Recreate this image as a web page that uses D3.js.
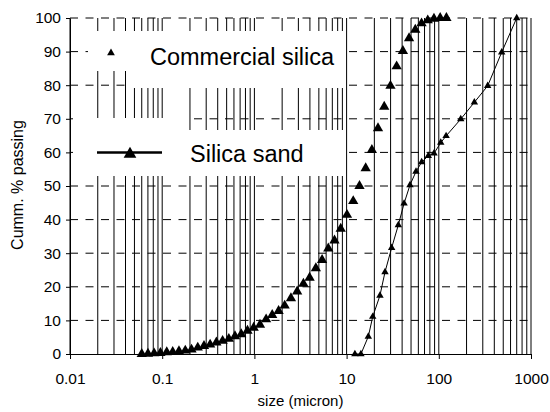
<!DOCTYPE html>
<html>
<head>
<meta charset="utf-8">
<script src="https://cdn.jsdelivr.net/npm/d3@7"></script>
<style>
  body { margin: 0; background: #fff; }
  svg text { font-family: "Liberation Sans", Arial, sans-serif; fill: #000; }
</style>
</head>
<body>
<svg id="chart" width="550" height="412"></svg>
<script>
// commercial silica (markers only)
const sizeCommercial = [0.060, 0.0701, 0.0818, 0.0956, 0.112, 0.130, 0.152, 0.178, 0.208, 0.243,
  0.284, 0.331, 0.387, 0.452, 0.528, 0.616, 0.720, 0.841, 0.982, 1.15,
  1.34, 1.56, 1.83, 2.13, 2.49, 2.91, 3.40, 3.97, 4.64, 5.42,
  6.33, 7.39, 8.63, 10.1, 11.8, 13.8, 16.1, 18.8, 21.9, 25.6,
  29.9, 34.9, 40.8, 47.6, 55.6, 65.0, 75.9, 88.6, 103.5, 120.9];
const passCommercial = [0, 0.1, 0.2, 0.3, 0.5, 0.6, 0.8, 1.0, 1.3, 1.9,
  2.4, 2.8, 3.4, 3.9, 4.5, 5.3, 5.9, 6.9, 7.8, 8.7,
  10.3, 11.6, 12.8, 14.4, 16.6, 18.6, 20.9, 22.7, 25.5, 28.0,
  31.4, 33.8, 37.3, 41.4, 45.5, 50.0, 55.3, 60.7, 67.2, 73.6,
  79.8, 85.6, 90.2, 94.0, 96.5, 98.4, 99.3, 99.8, 100, 100];

// silica sand (line + markers)
const sizeSand = [12.3, 14.3, 17.2, 19.2, 23.0, 26.1, 30.8, 36.4, 42.0, 48.7,
  56.6, 65.2, 76.9, 88.7, 105, 120, 173, 243, 339, 481, 700];
const passSand = [0, 0, 5.2, 11.1, 17.4, 24.4, 31.6, 38.4, 44.8, 50.3,
  54.3, 57.1, 59.0, 59.7, 62.9, 64.9, 69.9, 74.9, 79.8, 89.8, 100];

const xTicks = [0.01, 0.1, 1, 10, 100, 1000];
const xTickLabels = ["0.01", "0.1", "1", "10", "100", "1000"];
const yTicks = [0, 10, 20, 30, 40, 50, 60, 70, 80, 90, 100];
const seriesNames = ["Commercial silica", "Silica sand"];

const svg = d3.select("#chart");
const margin = { top: 18, right: 19, bottom: 58, left: 70 };
const width = +svg.attr("width") - margin.left - margin.right;
const height = +svg.attr("height") - margin.top - margin.bottom;

const x = d3.scaleLog().domain([0.01, 1000]).range([0, width]);
const y = d3.scaleLinear().domain([0, 100]).range([height, 0]);

const g = svg.append("g").attr("transform", `translate(${margin.left},${margin.top})`);

// vertical grid (every 1..9 of each decade)
g.append("g")
  .selectAll("line")
  .data(x.ticks())
  .join("line")
  .attr("x1", d => x(d)).attr("x2", d => x(d))
  .attr("y1", 0).attr("y2", height)
  .attr("stroke", "#000")
  .attr("stroke-width", 1);

// horizontal dashed grid
g.append("g")
  .selectAll("line")
  .data(yTicks.filter(d => d > 0))
  .join("line")
  .attr("x1", 0).attr("x2", width)
  .attr("y1", d => y(d)).attr("y2", d => y(d))
  .attr("stroke", "#000")
  .attr("stroke-width", 1)
  .attr("stroke-dasharray", "8,7.5");

// legend backgrounds (in page coords)
const legendBoxes = [
  [88, 31, 257, 40],
  [128, 71, 217, 17],
  [73, 118, 115, 58],
  [188, 130, 157, 46]
];
svg.append("g")
  .selectAll("rect")
  .data(legendBoxes)
  .join("rect")
  .attr("x", d => d[0]).attr("y", d => d[1])
  .attr("width", d => d[2]).attr("height", d => d[3])
  .attr("fill", "#fff");

// axes
const yAxis = g.append("g")
  .call(d3.axisLeft(y).tickValues(yTicks).tickSize(4).tickSizeOuter(0).tickPadding(5));
yAxis.select(".domain").attr("stroke", "#000");
yAxis.selectAll("text").style("font-size", "15.5px");

const xAxis = g.append("g")
  .attr("transform", `translate(0,${height})`)
  .call(d3.axisBottom(x).tickValues(xTicks).tickSize(5).tickSizeOuter(0).tickPadding(14)
    .tickFormat((d, i) => xTickLabels[i]));
xAxis.select(".domain").attr("stroke", "#000");
xAxis.selectAll("text").style("font-size", "15.5px");

// axis titles
svg.append("text")
  .attr("x", margin.left + x(Math.sqrt(10)))
  .attr("y", 406)
  .attr("text-anchor", "middle")
  .style("font-size", "15px")
  .text("size (micron)");

svg.append("text")
  .attr("transform", "translate(23,185) rotate(-90)")
  .attr("text-anchor", "middle")
  .style("font-size", "16px")
  .text("Cumm. % passing");

const commercial = sizeCommercial.map((s, i) => ({ s, p: passCommercial[i] }));
const sand = sizeSand.map((s, i) => ({ s, p: passSand[i] }));

// silica sand line
g.append("path")
  .datum(sand)
  .attr("fill", "none")
  .attr("stroke", "#000")
  .attr("stroke-width", 1)
  .attr("d", d3.line().x(d => x(d.s)).y(d => y(d.p)));

g.append("g")
  .selectAll("path")
  .data(sand)
  .join("path")
  .attr("transform", d => `translate(${x(d.s)},${y(d.p)})`)
  .attr("d", d3.symbol(d3.symbolTriangle, 24))
  .attr("fill", "#000");

// commercial silica markers
g.append("g")
  .selectAll("path")
  .data(commercial)
  .join("path")
  .attr("transform", d => `translate(${x(d.s)},${y(d.p)})`)
  .attr("d", d3.symbol(d3.symbolTriangle, 46))
  .attr("fill", "#000");

// legend
const legend = svg.append("g");
legend.append("path")
  .attr("transform", "translate(111,53)")
  .attr("d", d3.symbol(d3.symbolTriangle, 26))
  .attr("fill", "#000");
legend.append("text")
  .attr("x", 150).attr("y", 65)
  .style("font-size", "23.5px")
  .text(seriesNames[0]);

legend.append("line")
  .attr("x1", 97).attr("x2", 162)
  .attr("y1", 152.5).attr("y2", 152.5)
  .attr("stroke", "#000")
  .attr("stroke-width", 2.5);
legend.append("path")
  .attr("transform", "translate(130,154)")
  .attr("d", d3.symbol(d3.symbolTriangle, 70))
  .attr("fill", "#000");
legend.append("text")
  .attr("x", 190).attr("y", 161.5)
  .style("font-size", "23.5px")
  .text(seriesNames[1]);
</script>
</body>
</html>
